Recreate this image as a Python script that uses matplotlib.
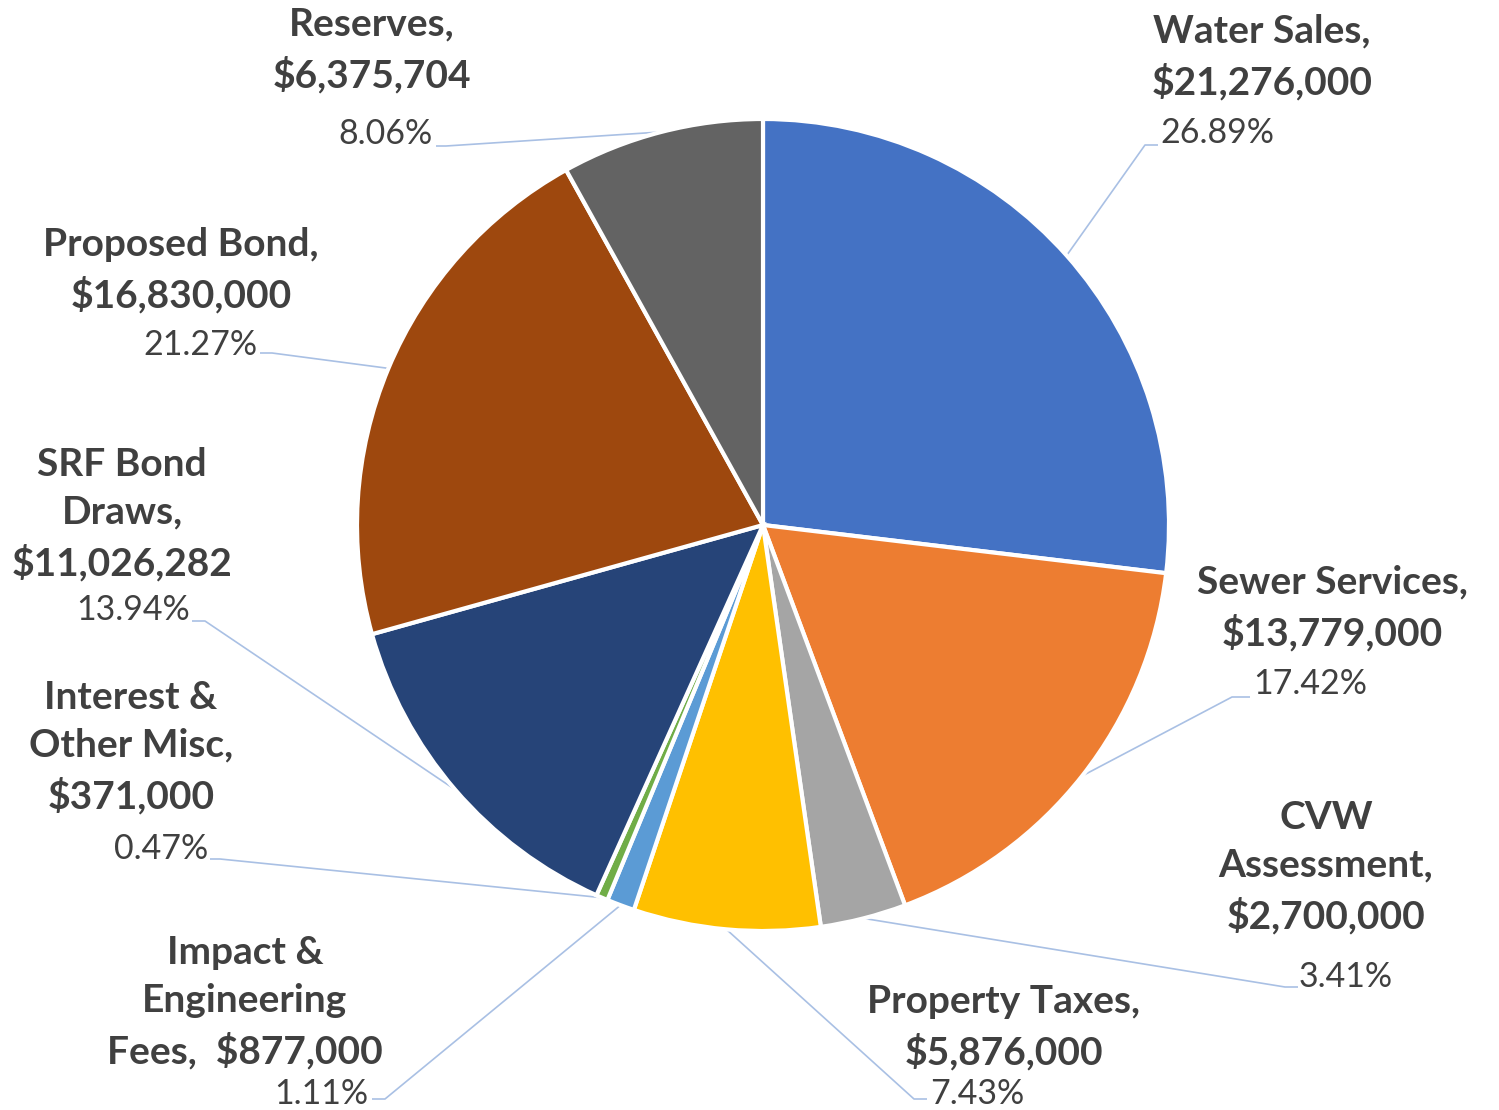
import numpy as np
import matplotlib
matplotlib.use("Agg")
import matplotlib.pyplot as plt

# revenue sources
names = ["Water Sales,", "Sewer Services,", "CVW\nAssessment,", "Property Taxes,",
         "Impact &\nEngineering\nFees, ", "Interest &\nOther Misc,", "SRF Bond\nDraws,",
         "Proposed Bond,", "Reserves,"]
values = [21276000, 13779000, 2700000, 5876000, 877000, 371000, 11026282, 16830000, 6375704]
colors = ["#4472C4", "#ED7D31", "#A5A5A5", "#FFC000", "#5B9BD5", "#70AD47",
          "#264478", "#9E480E", "#636363"]

# label layout in pixel coords (x right, y down)
name_pos = [(1262, 57), (1332, 608), (1326, 867), (1004, 1027), (245, 1002),
            (131, 747), (122, 514), (181, 270), (372, 50)]
pct_pos = [(1217, 133), (1310, 684), (1346, 977), (977, 1094), (321, 1094),
           (161, 849), (133, 610), (200, 345), (386, 134)]
elbows = [(1145, 145), (1232, 697), (1285, 987), (914, 1099), (385, 1099),
          (220, 859), (205, 621), (272, 353), (446, 146)]
ends = [(1158, 145), (1250, 697), (1298, 987), (927, 1099), (372, 1099),
        (210, 859), (192, 621), (260, 353), (436, 146)]

W, H = 1499, 1110
cx, cy, R = 763, 525, 406
txt = "#404040"
line_c = "#A9C0E4"
FONT = "Lato"


def Y(y):
    return H - y


fig = plt.figure(figsize=(W / 100, H / 100), dpi=100)
ax = fig.add_axes([0, 0, 1, 1])

wedges, _ = ax.pie(values, colors=colors, startangle=90, counterclock=False,
                   center=(cx, Y(cy)), radius=R,
                   wedgeprops=dict(edgecolor="white", linewidth=3))
ax.set_xlim(0, W)
ax.set_ylim(0, H)
ax.set_aspect("equal")
ax.axis("off")

total = sum(values)
for i, w in enumerate(wedges):
    pct = values[i] / total * 100
    if names[i].endswith(" "):
        label = names[i] + " " + f"${values[i]:,.0f}"
    else:
        label = names[i] + "\n" + f"${values[i]:,.0f}"
    nx, ny = name_pos[i]
    ax.text(nx, Y(ny), label, ha="center", va="center", multialignment="center",
            fontsize=28, fontweight="bold", color=txt, family=FONT, linespacing=1.45)
    px, py = pct_pos[i]
    ax.text(px, Y(py), f"{pct:.2f}%", ha="center", va="center",
            fontsize=24.5, color=txt, family=FONT)

    mid = np.deg2rad((w.theta1 + w.theta2) / 2)
    sx, sy = cx + R * np.cos(mid), Y(cy) + R * np.sin(mid)
    ex, ey = elbows[i]
    tx, ty = ends[i]
    ax.plot([sx, ex, tx], [sy, Y(ey), Y(ty)], color=line_c, lw=1.2,
            solid_capstyle="butt", zorder=0)

fig.savefig("out.png", dpi=100)
